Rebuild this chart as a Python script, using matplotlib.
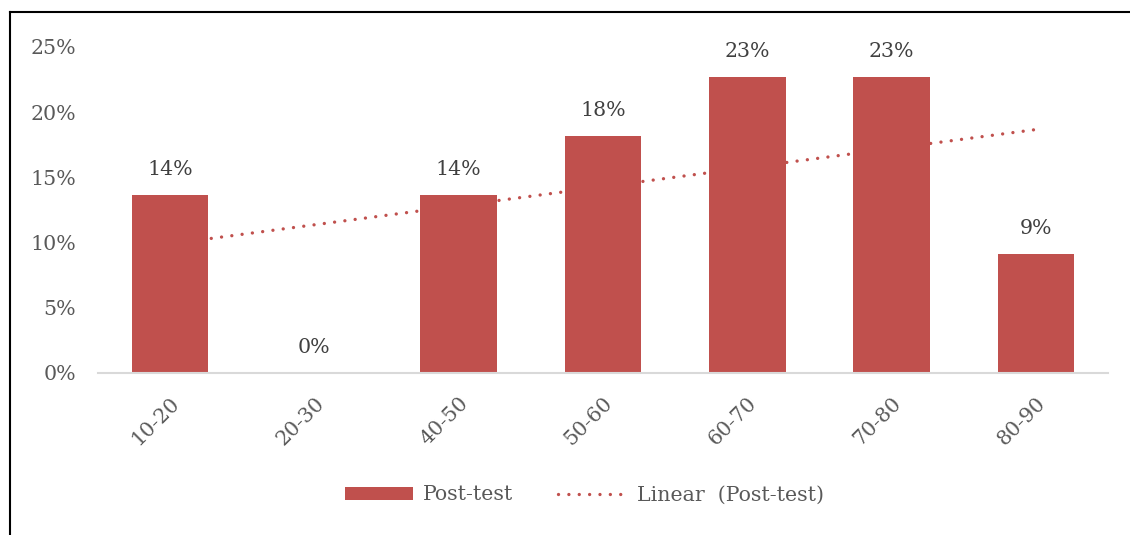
import numpy as np
import matplotlib
matplotlib.use("Agg")
import matplotlib.pyplot as plt
from matplotlib.lines import Line2D

categories = ["10-20", "20-30", "40-50", "50-60", "60-70", "70-80", "80-90"]
values = [13.64, 0.0, 13.64, 18.18, 22.73, 22.73, 9.09]
labels = ["14%", "0%", "14%", "18%", "23%", "23%", "9%"]
yticks = [0, 5, 10, 15, 20, 25]
ytick_labels = ["0%", "5%", "10%", "15%", "20%", "25%"]

BAR = "#C0504D"
TXT = "#595959"
FONT = "DejaVu Serif"
FS = 14.8

fig = plt.figure(figsize=(11.3, 5.35), dpi=100)
ax = fig.add_axes([98/1130, 1-373/535, (1108-98)/1130, (373-47)/535])

x = np.arange(len(categories))
bars = ax.bar(x, values, width=0.53, color=BAR, zorder=2, label="Post-test")

coef = np.polyfit(x, values, 1)
trend, = ax.plot(x, np.polyval(coef, x), color=BAR, lw=2.4, linestyle=(0, (0.01, 3.1)),
                 dash_capstyle="round", zorder=3, label="Linear (Post-test)")

for xi, v, lab in zip(x, values, labels):
    ax.annotate(lab, (xi, v), xytext=(0, 16), textcoords="offset pixels",
                ha="center", va="bottom", fontsize=FS, family=FONT, color="#404040")

ax.set_xlim(-0.5, len(categories) - 0.5)
ax.set_ylim(0, 25)
ax.set_yticks(yticks)
ax.set_yticklabels(ytick_labels, fontsize=FS, family=FONT, color=TXT)
ax.set_xticks(x)
ax.set_xticklabels(categories, rotation=45, ha="right", rotation_mode="anchor",
                   fontsize=FS, family=FONT, color=TXT)
ax.tick_params(axis="y", length=0, pad=16)
ax.tick_params(axis="x", length=0, pad=15)
for s in ["top", "right", "left"]:
    ax.spines[s].set_visible(False)
ax.spines["bottom"].set_color("#D9D9D9")
ax.spines["bottom"].set_linewidth(1.5)

leg = fig.legend(handles=[bars, trend], labels=["Post-test", "Linear  (Post-test)"],
                 loc="center", bbox_to_anchor=(0.517, 1-495/535), ncol=2, frameon=False,
                 prop={"family": FONT, "size": FS}, labelcolor=TXT,
                 handlelength=3.3, handleheight=0.6, columnspacing=2.2, handletextpad=0.5)

fig.add_artist(Line2D([10/1130, 1], [1-12/535, 1-12/535], transform=fig.transFigure, color="black", lw=1.5))
fig.add_artist(Line2D([10/1130, 10/1130], [1-12/535, 0], transform=fig.transFigure, color="black", lw=1.5))

fig.savefig("out.png", dpi=100)
